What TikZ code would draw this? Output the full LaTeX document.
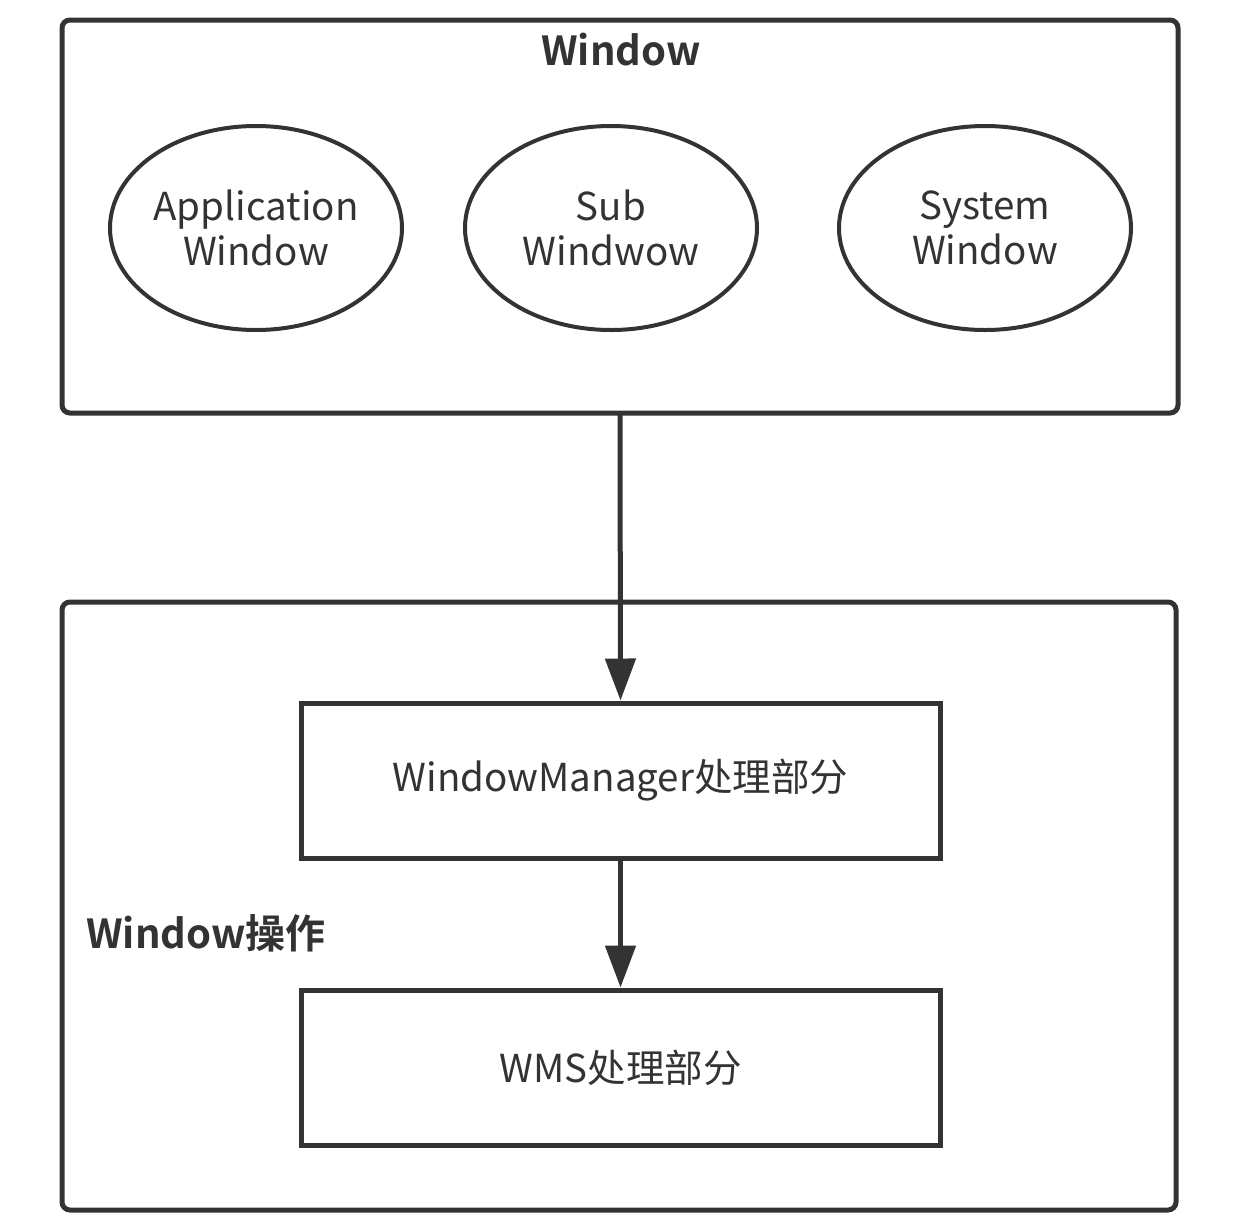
\documentclass[tikz,border=0pt]{standalone}
\usepackage{fontspec}
\setmainfont{Noto Sans CJK SC}[BoldFont={Noto Sans CJK SC Bold}]
\usetikzlibrary{arrows.meta,shapes.geometric}
\definecolor{ink}{HTML}{333333}
\tikzset{
  frame/.style={draw=ink, line width=5pt, rounded corners=8pt},
  oval/.style={draw=ink, line width=4pt, ellipse, inner sep=0pt, minimum width=292pt, minimum height=204pt, align=center, font=\fontsize{38.5}{45}\selectfont, text=ink},
  box/.style={draw=ink, line width=5pt, minimum width=639pt, minimum height=155pt, font=\fontsize{38.5}{45}\selectfont, text=ink},
  flow/.style={draw=ink, line width=5pt, -{Triangle[length=42pt,width=30pt]}},
  title/.style={font=\bfseries\fontsize{40}{46}\selectfont, text=ink}
}
\begin{document}
\begin{tikzpicture}[x=1pt,y=-1pt]
\useasboundingbox (0,0) rectangle (1252,1224);
\draw[frame] (62,20) rectangle (1178,413);
\node[title] (wt) at (621,50) {Window};
\node[oval] (app) at (256,228) {Application\\Window};
\node[oval] (sub) at (611,228) {Sub\\Windwow};
\node[oval] (sys) at (985,228) {System\\Window};
\coordinate (top) at (620,413);
\draw[frame] (62,602) rectangle (1176,1210);
\node[title] (op) at (206,933) {Window操作};
\node[box] (wm) at (620.5,780.5) {WindowManager处理部分};
\node[box] (wms) at (620.5,1067.5) {WMS处理部分};
\draw[flow] (top) -- (wm.north);
\draw[flow] (wm) -- (wms);
\end{tikzpicture}
\end{document}
